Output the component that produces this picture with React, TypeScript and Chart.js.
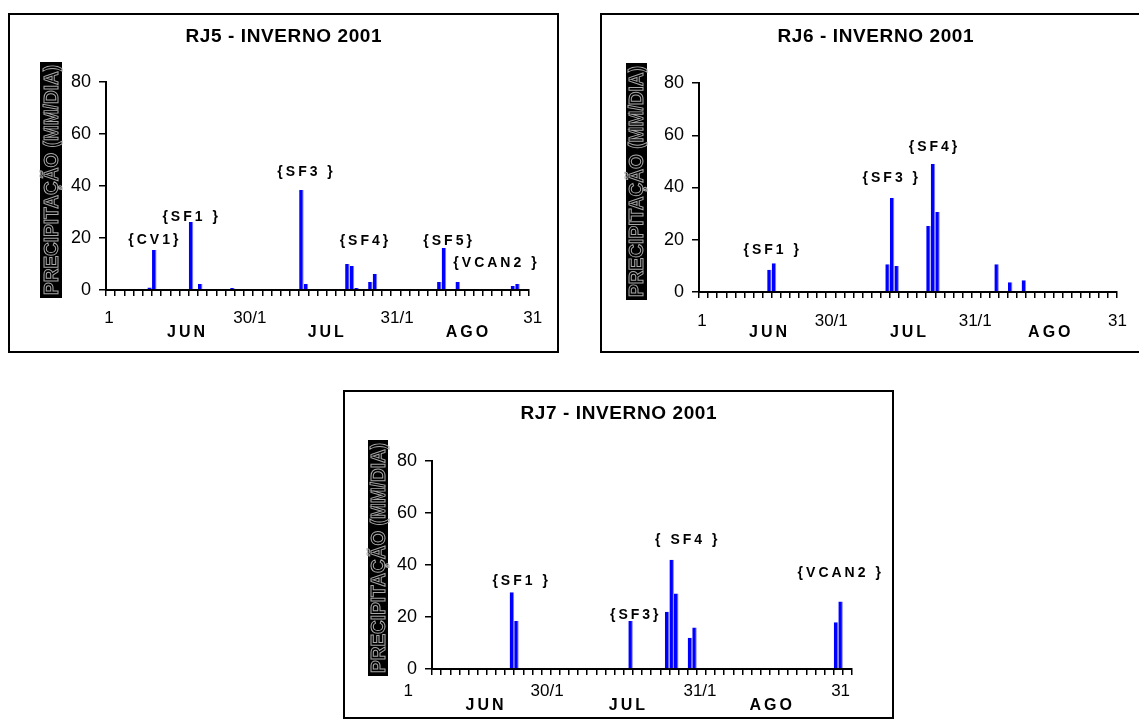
import React, { useEffect, useRef } from 'react';
import { Chart, registerables } from 'chart.js';

Chart.register(...registerables);

const FONT = '"Liberation Sans", Arial, Helvetica, sans-serif';
Chart.defaults.font.family = FONT;

// ---- categories ----
const MONTH_DAYS = [30, 31, 31];
const MONTH_CODES = ['6', '7', '8'];
const MONTH_NAMES = ['JUN', 'JUL', 'AGO'];
const DATE_LABELS = ['1', '30/1', '31/1', '31'];
const Y_TICKS = [0, 20, 40, 60, 80];
const Y_LABEL = 'PRECIPITAÇÃO (MM/DIA)';

// ---- RJ5 ----
const RJ5_DAYS = [9, 10, 18, 20, 27, 42, 43, 52, 53, 54, 57, 58, 72, 73, 76, 88, 89];
const RJ5_MM = [1, 15.4, 26.2, 2.3, 0.8, 38.5, 2.3, 10, 9.2, 0.8, 3.1, 6.2, 3.1, 16.2, 3.1, 1.5, 2.3];
const RJ5_EVENTS = ['{CV1}', '{SF1 }', '{SF3 }', '{SF4}', '{SF5}', '{VCAN2 }'];

// ---- RJ6 ----
const RJ6_DAYS = [15, 16, 41, 42, 43, 50, 51, 52, 65, 68, 71];
const RJ6_MM = [8.5, 11, 10.6, 36, 10, 25.3, 49, 30.6, 10.6, 3.7, 4.5];
const RJ6_EVENTS = ['{SF1 }', '{SF3 }', '{SF4}'];

// ---- RJ7 ----
const RJ7_DAYS = [17, 18, 43, 51, 52, 53, 56, 57, 88, 89];
const RJ7_MM = [29.5, 18.5, 18.5, 22, 42, 29, 12, 16, 18, 26];
const RJ7_EVENTS = ['{SF1 }', '{SF3}', '{ SF4 }', '{VCAN2 }'];

const DAY_LABELS: string[] = [];
MONTH_DAYS.forEach((n, m) => {
  for (let d = 1; d <= n; d++) DAY_LABELS.push(d + '/' + MONTH_CODES[m]);
});

function series(days: number[], mm: number[]) {
  const out: (number | null)[] = DAY_LABELS.map(() => null);
  days.forEach((d, i) => { out[d] = mm[i]; });
  return out;
}

// ---- layout of each panel (positions only) ----
const PANELS = [
  {
    title: 'RJ5 - INVERNO 2001', days: RJ5_DAYS, mm: RJ5_MM, events: RJ5_EVENTS,
    eventAt: [[9.8, 19.2], [17.8, 28.2], [42.8, 45.4], [55.6, 18.6], [73.8, 18.6], [84.1, 10.4]],
    box: { left: 8, top: 13, width: 551, height: 340 },
    area: { left: 96, right: 519, top: 67, bottom: 275 },
    titleY: 22,
    dateAt: [0.15, 30.8, 62.8, 92.3], monthAt: [16.9, 47.3, 78.0], dateDy: 28.5, monthDy: 43,
    strip: { dx: -66, w: 22, top: -20, bottom: 8 },
  },
  {
    title: 'RJ6 - INVERNO 2001', days: RJ6_DAYS, mm: RJ6_MM, events: RJ6_EVENTS,
    eventAt: [[15.4, 16.1], [41.6, 43.7], [51.0, 55.5]],
    box: { left: 600, top: 13, width: 551, height: 340 },
    area: { left: 97, right: 515, top: 68, bottom: 277 },
    titleY: 22,
    dateAt: [0.16, 28.6, 60.3, 91.6], monthAt: [14.7, 45.5, 76.6], dateDy: 29.5, monthDy: 41,
    strip: { dx: -73, w: 21, top: -20, bottom: 8 },
  },
  {
    title: 'RJ7 - INVERNO 2001', days: RJ7_DAYS, mm: RJ7_MM, events: RJ7_EVENTS,
    eventAt: [[18.8, 33.6], [43.8, 20.8], [55.2, 49.6], [88.7, 36.9]],
    box: { left: 343, top: 390, width: 551, height: 329 },
    area: { left: 87, right: 507, top: 69, bottom: 277 },
    titleY: 22,
    dateAt: [-5.7, 24.7, 58.2, 89.0], monthAt: [11.0, 42.2, 73.7], dateDy: 22.5, monthDy: 37,
    strip: { dx: -64, w: 20, top: -21, bottom: 7 },
  },
];

type Panel = typeof PANELS[number];

function spacedText(ctx: any, text: string, x: number, y: number, spacing: number) {
  ctx.letterSpacing = spacing + 'px';
  ctx.fillText(text, x + spacing / 2, y);
  ctx.letterSpacing = '0px';
}

function decorPlugin(p: Panel) {
  return {
    id: 'decor',
    afterDraw(chart: any) {
      const ctx = chart.ctx;
      const xs = chart.scales.x;
      const ys = chart.scales.y;
      const a = chart.chartArea;
      const p0 = xs.getPixelForValue(0);
      const p1 = xs.getPixelForValue(1);
      const px = (i: number) => p0 + i * (p1 - p0);
      ctx.save();
      ctx.textAlign = 'center';
      ctx.textBaseline = 'middle';
      ctx.fillStyle = '#000';

      // title
      ctx.font = 'bold 19px ' + FONT;
      spacedText(ctx, p.title, chart.width / 2, p.titleY, 0.6);

      // date labels
      ctx.font = '17px ' + FONT;
      DATE_LABELS.forEach((t, i) => {
        ctx.fillText(t, px(p.dateAt[i]), a.bottom + p.dateDy);
      });

      // month labels
      ctx.font = 'bold 16px ' + FONT;
      MONTH_NAMES.forEach((t, i) => {
        spacedText(ctx, t, px(p.monthAt[i]), a.bottom + p.monthDy, 3);
      });

      // event annotations
      ctx.font = 'bold 14px ' + FONT;
      p.events.forEach((t, i) => {
        const [ix, v] = p.eventAt[i];
        spacedText(ctx, t, px(ix), ys.getPixelForValue(v), 3);
      });

      // y-axis title strip
      const sx = a.left + p.strip.dx;
      const sy = a.top + p.strip.top;
      const sh = a.bottom + p.strip.bottom - sy;
      ctx.fillStyle = '#000';
      ctx.fillRect(sx, sy, p.strip.w, sh);
      ctx.translate(sx + p.strip.w / 2, sy + sh / 2);
      ctx.rotate(-Math.PI / 2);
      ctx.font = 'bold 21px ' + FONT;
      const tw = ctx.measureText(Y_LABEL).width;
      ctx.scale((sh - 6) / tw, 1);
      ctx.strokeStyle = '#a8a8a8';
      ctx.lineWidth = 1;
      ctx.strokeText(Y_LABEL, 0, 1);
      ctx.restore();
    },
  };
}

function PanelChart({ p }: { p: Panel }) {
  const ref = useRef<HTMLCanvasElement>(null);
  const W = p.box.width - 4;
  const H = p.box.height - 4;
  useEffect(() => {
    if (!ref.current) return;
    const xH = 20;
    const chart = new Chart(ref.current, {
      type: 'bar',
      data: {
        labels: DAY_LABELS,
        datasets: [{
          data: series(p.days, p.mm),
          backgroundColor: '#0000ff',
          borderColor: '#7a7aff',
          borderWidth: { top: 0, right: 1, bottom: 0, left: 0 },
          barPercentage: 0.98,
          categoryPercentage: 1,
        }],
      },
      options: {
        responsive: false,
        animation: false,
        devicePixelRatio: 1,
        layout: {
          padding: { left: 0, top: p.area.top, right: W - p.area.right, bottom: H - p.area.bottom - xH },
        },
        plugins: { legend: { display: false }, title: { display: false }, tooltip: { enabled: false } },
        scales: {
          x: {
            type: 'category',
            offset: true,
            grid: {
              offset: true,
              drawOnChartArea: false,
              drawTicks: true,
              tickLength: 6,
              lineWidth: 1.5,
              color: (c: any) => (c.index === undefined || c.index % 2 === 0 ? '#000' : 'rgba(0,0,0,0)'),
            },
            border: { color: '#000', width: 2 },
            ticks: { display: false, autoSkip: false },
            afterFit: (s: any) => { s.height = xH; },
          },
          y: {
            min: 0,
            max: 80,
            afterBuildTicks: (s: any) => { s.ticks = Y_TICKS.map((v) => ({ value: v })); },
            ticks: { color: '#000', font: { size: 18 }, padding: 8 },
            grid: { drawOnChartArea: false, tickLength: 7, color: '#000', lineWidth: 1.5 },
            border: { color: '#000', width: 2 },
            afterFit: (s: any) => { s.width = p.area.left; },
          },
        },
      } as any,
      plugins: [decorPlugin(p)],
    });
    return () => chart.destroy();
  }, []);
  return (
    <div
      style={{
        position: 'absolute',
        left: p.box.left,
        top: p.box.top,
        width: p.box.width,
        height: p.box.height,
        border: '2px solid #000',
        boxSizing: 'border-box',
        background: '#fff',
      }}
    >
      <canvas ref={ref} width={W} height={H} style={{ display: 'block', width: W, height: H }} />
    </div>
  );
}

export default function App() {
  return (
    <div style={{ position: 'absolute', left: 0, top: 0, width: 1139, height: 720, overflow: 'hidden', background: '#fff' }}>
      {PANELS.map((p) => (
        <PanelChart key={p.title} p={p} />
      ))}
    </div>
  );
}
